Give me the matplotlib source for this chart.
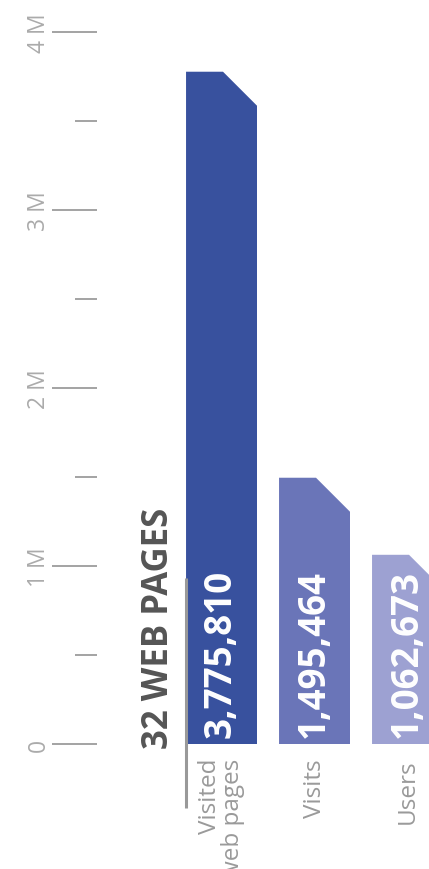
import matplotlib
matplotlib.use("Agg")
import matplotlib.pyplot as plt
from matplotlib.patches import Polygon

# data
categories = ["Visited\nweb pages", "Visits", "Users"]
values = [3775810, 1495464, 1062673]
bar_colors = ["#38519e", "#6a75b8", "#9da1d2"]
major_ticks = [0, 1e6, 2e6, 3e6, 4e6]
minor_ticks = [0.5e6, 1.5e6, 2.5e6, 3.5e6]
tick_labels = ["0", "1 M", "2 M", "3 M", "4 M"]
title = "32 WEB PAGES"

plt.rcParams['font.family'] = ['Open Sans', 'DejaVu Sans']

W, H = 429, 870
fig = plt.figure(figsize=(W / 100, H / 100), dpi=100)
ax = fig.add_axes([97 / W, 125 / H, 332 / W, 730 / H])
ax.set_xlim(-1.339, 2.231)
ax.set_ylim(0, 4.1e6)

bar_w = 0.763
# corner cut, same size in pixels both ways
cut_px = 34
cut_dx = cut_px * (2.231 + 1.339) / 332
cut_dy = cut_px * 4.1e6 / 730

for i, (v, c) in enumerate(zip(values, bar_colors)):
    left, right = i - bar_w / 2, i + bar_w / 2
    pts = [(left, 0), (left, v), (right - cut_dx, v),
           (right, v - cut_dy), (right, 0)]
    ax.add_patch(Polygon(pts, closed=True, facecolor=c, edgecolor="none"))
    ax.annotate(f"{v:,}", (i, 0), xytext=(-1, 7), textcoords="offset pixels",
                rotation=90, ha="center", va="bottom", color="white",
                fontsize=26.5, fontweight="bold")
    ax.annotate(categories[i], (i, 0), xytext=(0, -14),
                textcoords="offset pixels", rotation=90, ha="center",
                va="top", multialignment="right", linespacing=0.95,
                color="#9a9a9a", fontsize=17.5, annotation_clip=False)

# heading and its marker line
ax.annotate(title, (-0.715, 0), xytext=(4, -4), textcoords="offset pixels",
            rotation=90, ha="center", va="bottom", color="#555555",
            fontsize=25, fontweight="bold", annotation_clip=False)
ax.plot([-bar_w / 2, -bar_w / 2], [0.933e6, -0.36e6], color="#999999",
        lw=2.2, clip_on=False, solid_capstyle="butt")

for s in ax.spines.values():
    s.set_visible(False)
ax.set_xticks([])
ax.set_yticks(major_ticks)
ax.set_yticklabels(tick_labels)
ax.set_yticks(minor_ticks, minor=True)
ax.tick_params(axis="y", which="major", length=32.4, width=1.1,
               color="#8a8a8a", labelcolor="#ababab", labelsize=16.5,
               labelrotation=90, pad=1)
ax.tick_params(axis="y", which="minor", length=15.8, width=1.1,
               color="#8a8a8a")
for lab in ax.get_yticklabels():
    lab.set_va("center")

fig.savefig("out.png", dpi=100)
